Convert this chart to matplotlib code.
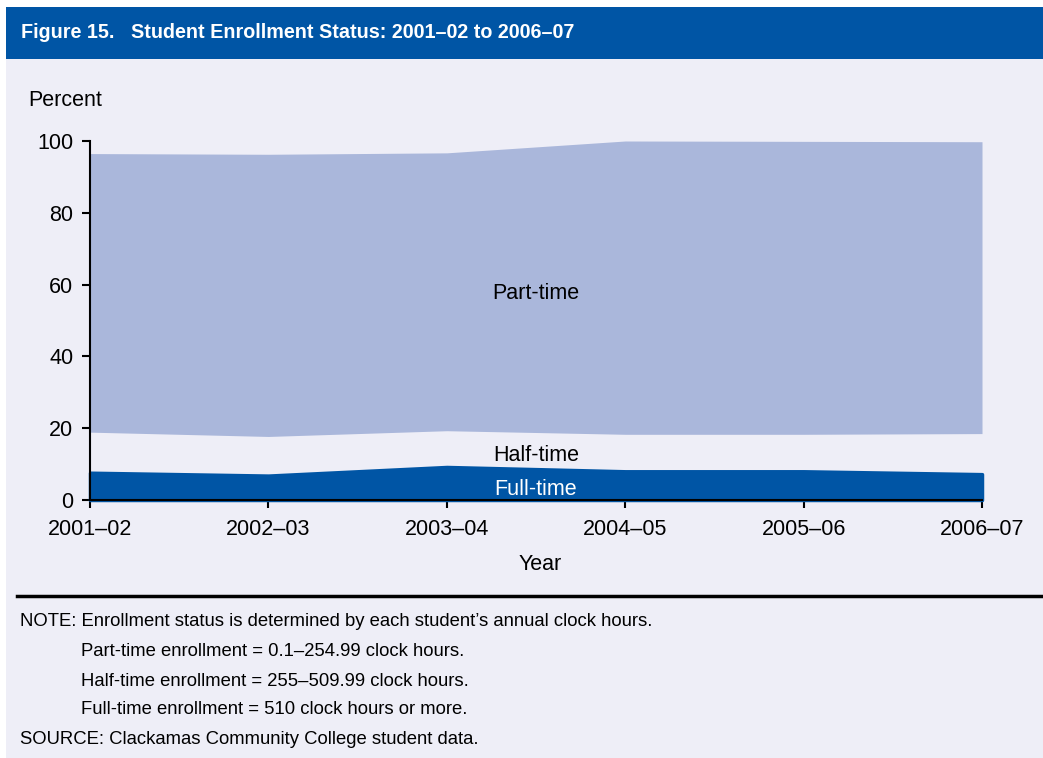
import matplotlib.pyplot as plt
from matplotlib.patches import Rectangle
from matplotlib.lines import Line2D
import numpy as np

years = ["2001–02", "2002–03", "2003–04", "2004–05", "2005–06", "2006–07"]
full_time = [7.6, 6.8, 9.2, 8.0, 8.0, 7.2]
half_time = [11.3, 10.9, 10.1, 10.3, 10.3, 11.3]
part_time = [77.6, 78.6, 77.4, 81.7, 81.6, 81.3]

notes = [
    ("NOTE: Enrollment status is determined by each student’s annual clock hours.", 0),
    ("Part-time enrollment = 0.1–254.99 clock hours.", 1),
    ("Half-time enrollment = 255–509.99 clock hours.", 1),
    ("Full-time enrollment = 510 clock hours or more.", 1),
    ("SOURCE: Clackamas Community College student data.", 0),
]

dark_blue = "#0055A5"
light_blue = "#AAB7DB"
panel_bg = "#EEEEF7"

plt.rcParams["font.family"] = ["Liberation Sans", "DejaVu Sans"]

W, H = 1043, 758
fig = plt.figure(figsize=(W / 100, H / 100), dpi=100)
fig.patch.set_facecolor("white")


def fx(px):
    return px / W


def fy(py):
    return 1 - py / H


# panel background and header bar
fig.add_artist(Rectangle((fx(6), 0), 1 - fx(6), fy(59), transform=fig.transFigure,
                         facecolor=panel_bg, edgecolor="none", zorder=0))
fig.add_artist(Rectangle((fx(6), fy(59)), 1 - fx(6), fy(7) - fy(59), transform=fig.transFigure,
                         facecolor=dark_blue, edgecolor="none", zorder=0))
fig.text(fx(21), fy(33), "Figure 15.   Student Enrollment Status: 2001–02 to 2006–07",
         color="white", fontsize=14.2, fontweight="bold", va="center", ha="left",
         family=["Liberation Sans Narrow", "Liberation Sans", "DejaVu Sans"])

ax = fig.add_axes([fx(90), fy(500), fx(982) - fx(90), fy(141) - fy(500)])
ax.set_facecolor(panel_bg)

x = np.arange(len(years))
ft = np.array(full_time)
ht = ft + np.array(half_time)
pt = ht + np.array(part_time)

ax.fill_between(x, 0, ft, color=dark_blue, lw=2.5, edgecolor=dark_blue, zorder=2,
                clip_on=False, joinstyle="round")
ax.fill_between(x, ht, pt, color=light_blue, lw=0, zorder=2)

ax.set_xlim(0, len(years) - 1)
ax.set_ylim(0, 100)
ax.set_xticks(x)
ax.set_xticklabels(years)
ax.set_yticks(range(0, 101, 20))

for side in ("top", "right"):
    ax.spines[side].set_visible(False)
for side in ("left", "bottom"):
    ax.spines[side].set_linewidth(1.5)
    ax.spines[side].set_zorder(3)
ax.tick_params(axis="both", length=6, width=1.5, labelsize=15.5, color="black")
ax.tick_params(axis="x", pad=8)
ax.tick_params(axis="y", pad=6)

ax.text(2.5, 57.4, "Part-time", ha="center", va="center", fontsize=15.5, zorder=4)
ax.text(2.5, 12.4, "Half-time", ha="center", va="center", fontsize=15.5, zorder=4)
ax.text(2.5, 3.0, "Full-time", ha="center", va="center", fontsize=15.5,
        color="white", zorder=4)

fig.text(fx(28), fy(100), "Percent", fontsize=15.5, ha="left", va="center")
fig.text(fx(540), fy(564), "Year", fontsize=15.5, ha="center", va="center")

fig.add_artist(Line2D([fx(17), 1], [fy(595.5), fy(595.5)], transform=fig.transFigure,
                      color="black", lw=2.5))

line_y = [622, 651, 681, 710, 740]
for (txt, indent), py in zip(notes, line_y):
    fig.text(fx(81 if indent else 20), fy(py), txt, fontsize=13.3, ha="left", va="center")

fig.savefig("out.png", dpi=100, facecolor=fig.get_facecolor())
